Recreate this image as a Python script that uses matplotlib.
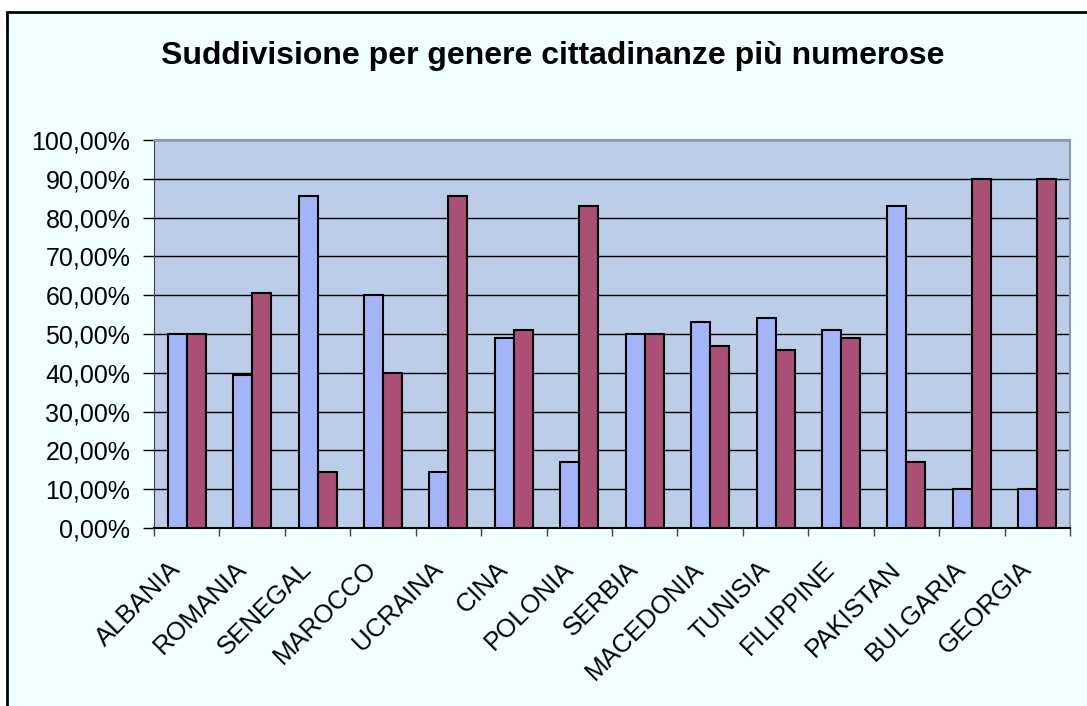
import matplotlib
matplotlib.use("Agg")
import matplotlib.pyplot as plt
import numpy as np
from matplotlib.patches import Rectangle
from matplotlib.ticker import FuncFormatter, MultipleLocator

categories = ["ALBANIA", "ROMANIA", "SENEGAL", "MAROCCO", "UCRAINA", "CINA", "POLONIA",
              "SERBIA", "MACEDONIA", "TUNISIA", "FILIPPINE", "PAKISTAN", "BULGARIA", "GEORGIA"]
maschi = [50.0, 39.5, 85.5, 60.0, 14.5, 49.0, 17.0, 50.0, 53.0, 54.0, 51.0, 83.0, 10.0, 10.0]
femmine = [50.0, 60.5, 14.5, 40.0, 85.5, 51.0, 83.0, 50.0, 47.0, 46.0, 49.0, 17.0, 90.0, 90.0]
title = "Suddivisione per genere cittadinanze più numerose"

plt.rcParams['font.family'] = ['Liberation Sans', 'DejaVu Sans']

fig = plt.figure(figsize=(10.87, 7.06), dpi=100, facecolor='white')
# chart area frame
fig.patches.append(Rectangle((7/1087, -0.05), 1.2, 1 - 12/706 + 0.05, transform=fig.transFigure,
                             facecolor='#F0FFFF', edgecolor='black', linewidth=2, zorder=-10))

ax = fig.add_axes([154/1087, 1 - 528/706, (1070 - 154)/1087, (528 - 140)/706])
ax.set_zorder(5)
ax.set_facecolor('#BCCDEA')

x = np.arange(len(categories))
w = 0.29
ax.bar(x - w/2, maschi, width=w, color='#A4B4F8', edgecolor='black', linewidth=1.5, zorder=3)
ax.bar(x + w/2, femmine, width=w, color='#AA4F76', edgecolor='black', linewidth=1.5, zorder=3)

ax.set_xlim(-0.5, len(categories) - 0.5)
ax.set_ylim(0, 100)
ax.yaxis.set_major_locator(MultipleLocator(10))
ax.yaxis.set_major_formatter(FuncFormatter(lambda v, p: f"{v:.2f}%".replace('.', ',')))
ax.grid(axis='y', color='black', linewidth=1, zorder=1)
ax.set_axisbelow(True)

ax.set_xticks(np.arange(len(categories) + 1) - 0.5, minor=False)
ax.set_xticklabels([])
ax.tick_params(axis='x', which='major', length=6, width=1, color='#404040', direction='out')
ax.tick_params(axis='y', length=8, width=1, labelsize=18, pad=9)

for i, c in enumerate(categories):
    ax.annotate(c, xy=(i, 0), xycoords=('data', 'axes fraction'), xytext=(-7, -27),
                textcoords='offset points', rotation=45, rotation_mode='anchor',
                ha='right', va='center', fontsize=18.5)

for s in ['top', 'right']:
    ax.spines[s].set_color('#8A9AB0')
    ax.spines[s].set_linewidth(1.5)
ax.spines['left'].set_color('#404040')
ax.spines['bottom'].set_color('black')
ax.spines['bottom'].set_linewidth(1.5)

fig.text(553/1087, 1 - 56/706, title, ha='center', va='center', fontsize=23, fontweight='bold')

fig.savefig('out.png', dpi=100, facecolor=fig.get_facecolor())
